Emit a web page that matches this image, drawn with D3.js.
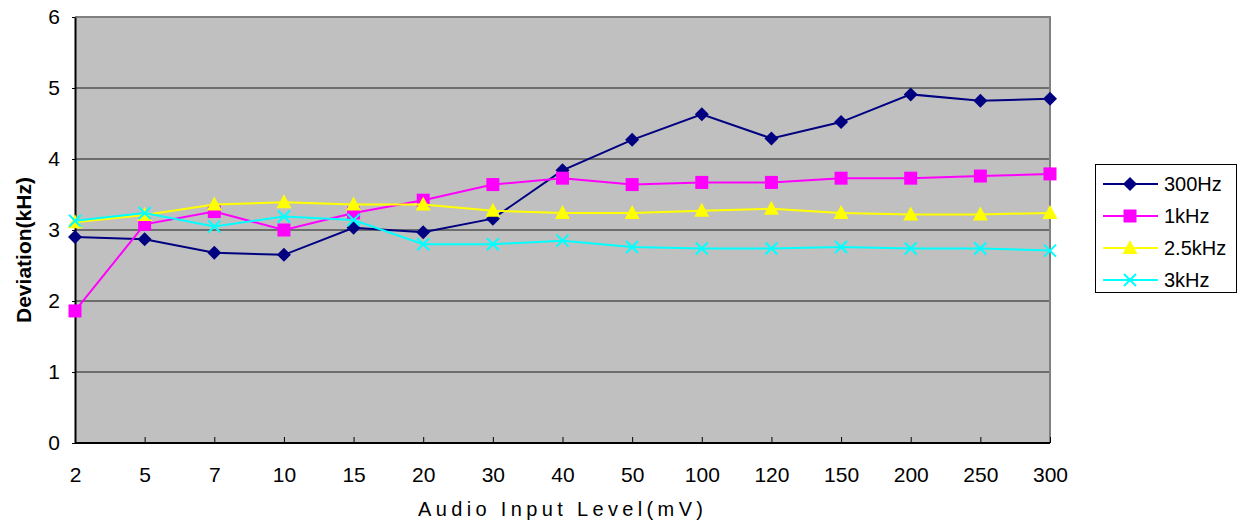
<!DOCTYPE html>
<html>
<head>
<meta charset="utf-8">
<script src="https://cdn.jsdelivr.net/npm/d3@7"></script>
<style>
  body { margin: 0; background: #fff; }
  text { font-family: "Liberation Sans", Arial, sans-serif; fill: #000; }
</style>
</head>
<body>
<svg id="chart" width="1244" height="523"></svg>
<script>
// MARK: Data.

const levels  = ['2', '5', '7', '10', '15', '20', '30', '40', '50', '100', '120', '150', '200', '250', '300']
const hz300   = [2.90, 2.87, 2.68, 2.65, 3.03, 2.97, 3.16, 3.84, 4.27, 4.63, 4.29, 4.52, 4.91, 4.82, 4.85]
const khz1    = [1.86, 3.08, 3.26, 3.00, 3.24, 3.42, 3.64, 3.73, 3.64, 3.67, 3.67, 3.73, 3.73, 3.76, 3.79]
const khz2_5  = [3.11, 3.21, 3.36, 3.39, 3.36, 3.36, 3.27, 3.24, 3.24, 3.27, 3.30, 3.24, 3.22, 3.22, 3.24]
const khz3    = [3.13, 3.24, 3.05, 3.19, 3.14, 2.80, 2.80, 2.85, 2.76, 2.74, 2.74, 2.76, 2.74, 2.74, 2.71]
const yTicks  = [0, 1, 2, 3, 4, 5, 6]

const series = [
  { name: '300Hz',   values: hz300,  color: '#000080', marker: 'diamond'  },
  { name: '1kHz',    values: khz1,   color: '#ff00ff', marker: 'square'   },
  { name: '2.5kHz',  values: khz2_5, color: '#ffff00', marker: 'triangle' },
  { name: '3kHz',    values: khz3,   color: '#00ffff', marker: 'cross'    },
]

// MARK: Layout.

const plot = { left: 75, right: 1050, top: 17, bottom: 443 }

const svg = d3.select('#chart')

const x = d3.scalePoint()
  .domain(levels)
  .range([plot.left, plot.right])

const y = d3.scaleLinear()
  .domain([0, 6])
  .range([plot.bottom, plot.top])

// Plot background.
svg.append('rect')
  .attr('x', plot.left)
  .attr('y', plot.top)
  .attr('width', plot.right - plot.left)
  .attr('height', plot.bottom - plot.top)
  .attr('fill', '#c0c0c0')

// Gridlines.
svg.append('g')
  .selectAll('line')
  .data(yTicks.filter((t) => t > 0 && t < 6))
  .enter().append('line')
  .attr('x1', plot.left)
  .attr('x2', plot.right)
  .attr('y1', (d) => y(d))
  .attr('y2', (d) => y(d))
  .attr('stroke', '#1a1a1a')
  .attr('stroke-width', 1)

// Top and right frame.
svg.append('path')
  .attr('d', `M${plot.left},${plot.top}H${plot.right}V${plot.bottom}`)
  .attr('fill', 'none')
  .attr('stroke', '#808080')
  .attr('stroke-width', 2)

// Axes.
const yAxis = svg.append('g')
  .attr('transform', `translate(${plot.left},0)`)
  .call(d3.axisLeft(y).tickValues(yTicks).tickFormat(d3.format('d')).tickSize(3).tickPadding(12).tickSizeOuter(0))
yAxis.select('.domain').attr('stroke', '#000').attr('stroke-width', 2)
yAxis.selectAll('text')
  .style('font-size', '21px')
  .attr('fill', '#222')

// Category ticks point inward, into the plot.
const xAxis = svg.append('g')
  .attr('transform', `translate(0,${plot.bottom})`)
  .call(d3.axisBottom(x).tickSize(-6).tickPadding(24).tickSizeOuter(0))
xAxis.select('.domain').attr('stroke', '#000').attr('stroke-width', 2)
  .attr('d', `M${plot.left},0H${plot.right}`)
xAxis.selectAll('text')
  .style('font-size', '21px')
  .attr('fill', '#222')

// Axis titles.
svg.append('text')
  .attr('x', 418)
  .attr('y', 516)
  .attr('textLength', 285)
  .style('font-size', '20px')
  .text('Audio Input Level(mV)')

svg.append('text')
  .attr('transform', `translate(31,${250}) rotate(-90)`)
  .attr('x', -73)
  .attr('textLength', 146)
  .style('font-size', '21px')
  .style('font-weight', 'bold')
  .text('Deviation(kHz)')

// MARK: Markers.

const drawMarker = (g, kind, color) => {
  if (kind === 'diamond') {
    g.append('path').attr('d', 'M0,-7L7,0L0,7L-7,0Z').attr('fill', color)
  } else if (kind === 'square') {
    g.append('rect').attr('x', -6.5).attr('y', -6.5).attr('width', 13).attr('height', 13).attr('fill', color)
  } else if (kind === 'triangle') {
    g.append('path').attr('d', 'M0,-8L7.5,6L-7.5,6Z').attr('fill', color)
  } else {
    g.append('path').attr('d', 'M-6,-6L6,6M-6,6L6,-6')
      .attr('stroke', color).attr('stroke-width', 2).attr('fill', 'none')
  }
}

const line = d3.line()
  .x((d, i) => x(levels[i]))
  .y((d) => y(d))

const seriesGroup = svg.append('g')

series.forEach((s) => {
  const g = seriesGroup.append('g')
  g.append('path')
    .datum(s.values)
    .attr('d', line)
    .attr('fill', 'none')
    .attr('stroke', s.color)
    .attr('stroke-width', 2)
  g.selectAll('g.pt')
    .data(s.values)
    .enter().append('g')
    .attr('class', 'pt')
    .attr('transform', (d, i) => `translate(${x(levels[i])},${y(d)})`)
    .each(function () { drawMarker(d3.select(this), s.marker, s.color) })
})

// MARK: Legend.

const legend = svg.append('g')
legend.append('rect')
  .attr('x', 1095.5)
  .attr('y', 164.5)
  .attr('width', 141)
  .attr('height', 128)
  .attr('fill', '#fff')
  .attr('stroke', '#000')
  .attr('stroke-width', 1)

const items = legend.selectAll('g.item')
  .data(series)
  .enter().append('g')
  .attr('class', 'item')
  .attr('transform', (d, i) => `translate(1130,${184 + i * 32})`)

items.append('line')
  .attr('x1', -27).attr('x2', 28)
  .attr('stroke', (d) => d.color)
  .attr('stroke-width', 2)
items.each(function (d) { drawMarker(d3.select(this), d.marker, d.color) })
items.append('text')
  .attr('x', 34)
  .attr('dy', '0.36em')
  .style('font-size', '20px')
  .attr('fill', '#222')
  .text((d) => d.name)
</script>
</body>
</html>
